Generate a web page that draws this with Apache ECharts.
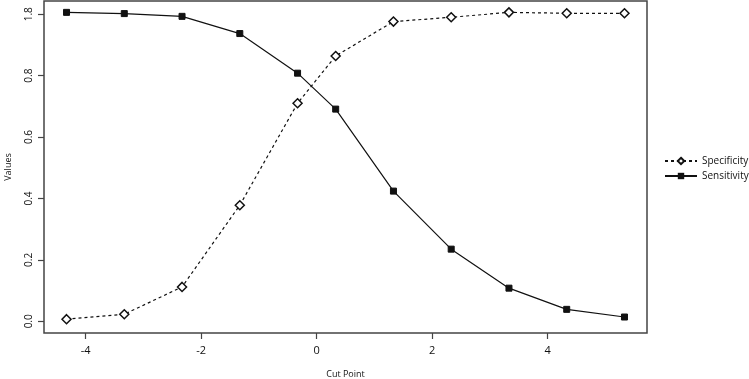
<!DOCTYPE html>
<html>
<head>
<meta charset="utf-8">
<script src="https://cdn.jsdelivr.net/npm/echarts@6/dist/echarts.min.js"></script>
<style>
  html, body { margin: 0; padding: 0; background: #fff; }
  #chart { width: 749px; height: 379px; }
</style>
</head>
<body>
<div id="chart"></div>
<script>
var cutPoints = [-4.33, -3.33, -2.33, -1.33, -0.33, 0.33, 1.33, 2.33, 3.33, 4.33, 5.33];
var specificity = [0.007, 0.023, 0.112, 0.378, 0.71, 0.864, 0.976, 0.99, 1.006, 1.003, 1.003];
var sensitivity = [1.006, 1.002, 0.993, 0.937, 0.808, 0.691, 0.424, 0.235, 0.108, 0.039, 0.014];
var xTicks = [-4, -2, 0, 2, 4];
var yTicks = [0, 0.2, 0.4, 0.6, 0.8, 1.0];
var yTickLabels = ['0.0', '0.2', '0.4', '0.6', '0.8', '1.8'];

function pairs(ys) {
  var out = [];
  for (var i = 0; i < cutPoints.length; i++) out.push([cutPoints[i], ys[i]]);
  return out;
}

var font = '"Open Sans", "Noto Sans", sans-serif';
var chart = echarts.init(document.getElementById('chart'));

var option = {
  animation: false,
  grid: {
    left: 44, right: 102, top: 1, bottom: 46,
    outerBoundsMode: 'none',
    containLabel: false,
    show: true, borderColor: '#444', borderWidth: 1.5, backgroundColor: 'transparent'
  },
  legend: {
    orient: 'vertical',
    left: 659, top: 151,
    itemWidth: 32, itemHeight: 8, itemGap: 5,
    textStyle: { fontFamily: font, fontSize: 10, color: '#111' },
    data: ['Specificity', 'Sensitivity']
  },
  xAxis: {
    type: 'value',
    min: -4.72, max: 5.72,
    name: 'Cut Point', nameLocation: 'middle', nameGap: 37,
    nameTextStyle: { fontFamily: font, fontSize: 9, color: '#111' },
    axisLine: { show: false, onZero: false },
    axisTick: { show: true, length: 6, lineStyle: { color: '#444', width: 1.2 }, customValues: xTicks },
    axisLabel: { fontFamily: font, fontSize: 11, color: '#111', margin: 12, customValues: xTicks },
    splitLine: { show: false }
  },
  yAxis: {
    type: 'value',
    min: -0.038, max: 1.043,
    name: 'Values', nameLocation: 'middle', nameGap: 31,
    nameTextStyle: { fontFamily: font, fontSize: 9, color: '#111' },
    axisLine: { show: false, onZero: false },
    axisTick: { show: true, length: 6, lineStyle: { color: '#444', width: 1.2 }, customValues: yTicks },
    axisLabel: {
      fontFamily: font, fontSize: 10, color: '#111', margin: 10, rotate: 90,
      customValues: yTicks,
      formatter: function (v) {
        for (var i = 0; i < yTicks.length; i++) if (Math.abs(yTicks[i] - v) < 1e-6) return yTickLabels[i];
        return '';
      }
    },
    splitLine: { show: false }
  },
  series: [
    {
      name: 'Specificity',
      type: 'line',
      data: pairs(specificity),
      symbol: 'diamond',
      symbolSize: 9,
      lineStyle: { color: '#111', width: 1.2, type: [3, 3] },
      itemStyle: { color: '#fff', borderColor: '#111', borderWidth: 1.5 }
    },
    {
      name: 'Sensitivity',
      type: 'line',
      data: pairs(sensitivity),
      symbol: 'rect',
      symbolSize: 6,
      lineStyle: { color: '#111', width: 1.2 },
      itemStyle: { color: '#111', borderColor: '#111' }
    }
  ]
};

chart.setOption(option);
</script>
</body>
</html>
